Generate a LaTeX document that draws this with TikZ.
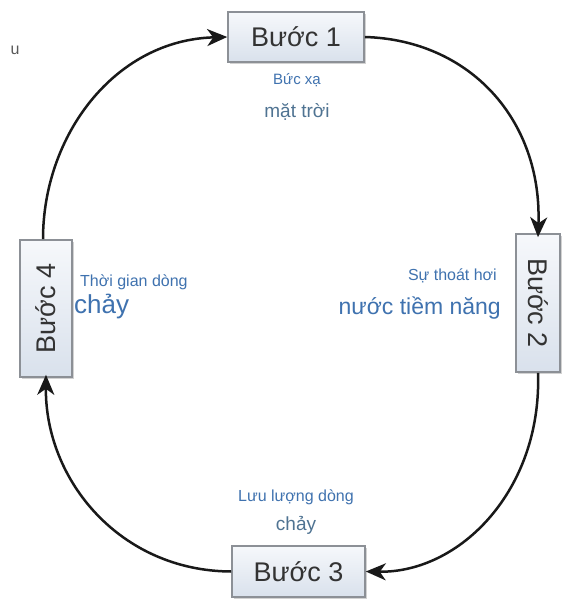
\documentclass[tikz,border=0pt]{standalone}
\usepackage{fontspec}
\setmainfont{Liberation Sans}
\usetikzlibrary{shadows,arrows.meta}
\definecolor{lblue}{HTML}{3F72AF}
\definecolor{dblue}{HTML}{4F7392}
\definecolor{boxtop}{HTML}{F6F8FB}
\definecolor{boxbot}{HTML}{D9E1EC}
\definecolor{boxline}{HTML}{8C9096}
\tikzset{
  stepbox/.style={draw=boxline, line width=1.6pt, top color=boxtop, bottom color=boxbot,
    drop shadow={shadow xshift=1.5pt, shadow yshift=-2pt, opacity=0.35},
    inner sep=0pt, font=\fontsize{27}{30}\selectfont, text=black!80},
  flow/.style={line width=2.5pt, -{Stealth[length=20pt,width=17pt,inset=6pt]}, black!90},
  lab/.style={text=lblue, inner sep=0pt},
}
\begin{document}
\begin{tikzpicture}[x=1pt,y=-1pt]
\useasboundingbox[fill=white] (0,0) rectangle (564,599);
\node[stepbox, minimum width=136pt, minimum height=50pt] (b1) at (296,37) {Bước 1};
\node[stepbox, rotate=-90, minimum width=138pt, minimum height=44pt] (b2) at (538,303) {Bước 2};
\node[stepbox, minimum width=133pt, minimum height=51pt] (b3) at (298.5,571.5) {Bước 3};
\node[stepbox, rotate=90, minimum width=137pt, minimum height=52pt] (b4) at (46,308.5) {Bước 4};

\node[lab, font=\fontsize{15}{18}\selectfont] (t1a) at (297,80) {Bức xạ};
\node[lab, font=\fontsize{19}{22}\selectfont, text=dblue] (t1b) at (297,112) {mặt trời};
\node[lab, font=\fontsize{16}{19}\selectfont, anchor=east] (t2a) at (497,276) {Sự thoát hơi};
\node[lab, font=\fontsize{23}{26}\selectfont, anchor=east] (t2b) at (501,308) {nước tiềm năng};
\node[lab, font=\fontsize{16}{19}\selectfont] (t3a) at (296,497) {Lưu lượng dòng};
\node[lab, font=\fontsize{19}{22}\selectfont, text=dblue] (t3b) at (296,525) {chảy};
\node[lab, font=\fontsize{16}{19}\selectfont, anchor=west] (t4a) at (80,282) {Thời gian dòng};
\node[lab, font=\fontsize{26}{29}\selectfont, anchor=west] (t4b) at (74,307) {chảy};
\node[text=black!65, inner sep=0pt, font=\fontsize{16}{18}\selectfont] (u) at (15,50) {u};

\draw[flow] ([xshift=-3pt]b4.east) .. controls (43,135) and (115,40) .. (b1.west);
\draw[flow] (b1.east) .. controls (470,40) and (542,120) .. ([yshift=-4pt]b2.west);
\draw[flow] (b2.east) .. controls (542,490) and (460,573) .. (b3.east);
\draw[flow] (b3.west) .. controls (120,571) and (45,480) .. ([yshift=3pt]b4.west);
\end{tikzpicture}
\end{document}
